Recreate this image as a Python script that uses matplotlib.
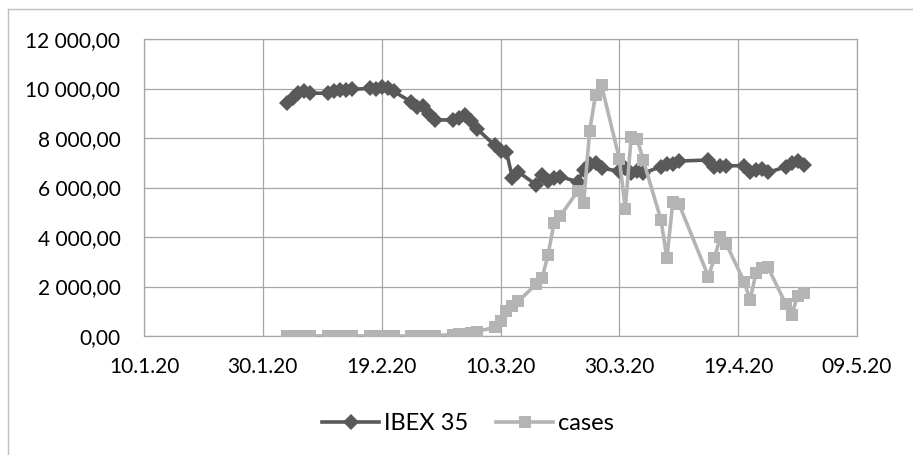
import matplotlib
matplotlib.use("Agg")
import matplotlib.pyplot as plt
from matplotlib.ticker import FuncFormatter, MultipleLocator
from matplotlib.lines import Line2D
import pandas as pd

# DATA
dates = [
    "2020-02-03", "2020-02-04", "2020-02-05", "2020-02-06", "2020-02-07",
    "2020-02-10", "2020-02-11", "2020-02-12", "2020-02-13", "2020-02-14",
    "2020-02-17", "2020-02-18", "2020-02-19", "2020-02-20", "2020-02-21",
    "2020-02-24", "2020-02-25", "2020-02-26", "2020-02-27", "2020-02-28",
    "2020-03-02", "2020-03-03", "2020-03-04", "2020-03-05", "2020-03-06",
    "2020-03-09", "2020-03-10", "2020-03-11", "2020-03-12", "2020-03-13",
    "2020-03-16", "2020-03-17", "2020-03-18", "2020-03-19", "2020-03-20",
    "2020-03-23", "2020-03-24", "2020-03-25", "2020-03-26", "2020-03-27",
    "2020-03-30", "2020-03-31",
    "2020-04-01", "2020-04-02", "2020-04-03",
    "2020-04-06", "2020-04-07", "2020-04-08", "2020-04-09",
    "2020-04-14", "2020-04-15", "2020-04-16", "2020-04-17",
    "2020-04-20", "2020-04-21", "2020-04-22", "2020-04-23", "2020-04-24",
    "2020-04-27", "2020-04-28", "2020-04-29", "2020-04-30",
]

ibex = [
    9400, 9620, 9800, 9890, 9810, 9810, 9880, 9950, 9920, 9960,
    10010, 9970, 10080, 10010, 9880, 9460, 9250, 9310, 8970, 8720,
    8740, 8810, 8910, 8680, 8380, 7710, 7460, 7440, 6390, 6630,
    6110, 6500, 6280, 6400, 6440, 6230, 6720, 6940, 7000, 6780,
    6660, 6790,
    6580, 6650, 6580, 6840, 6950, 6950, 7070, 7110, 6840, 6850,
    6880, 6880, 6630, 6710, 6740, 6610, 6830, 6980, 7070, 6920,
]

cases = [
    0, 0, 0, 0, 0, 0, 0, 0, 0, 0,
    0, 0, 0, 0, 0, 0, 3, 5, 10, 20,
    50, 70, 100, 130, 180, 350, 620, 1000, 1200, 1400,
    2100, 2330, 3280, 4560, 4830, 5850, 5380, 8280, 9750, 10130,
    7160, 5150,
    8050, 7950, 7130, 4700, 3150, 5400, 5350, 2400, 3150, 4000,
    3720, 2200, 1460, 2540, 2740, 2780, 1300, 850, 1620, 1730,
]

tick_dates = ["2020-01-10", "2020-01-30", "2020-02-19", "2020-03-10",
              "2020-03-30", "2020-04-19", "2020-05-09"]
tick_labels = ["10.1.20", "30.1.20", "19.2.20", "10.3.20",
               "30.3.20", "19.4.20", "09.5.20"]

x = pd.to_datetime(dates)
xt = pd.to_datetime(tick_dates)

plt.rcParams['font.family'] = ['Lato', 'DejaVu Sans']

fig = plt.figure(figsize=(9.13, 4.55), dpi=100)
ax = fig.add_axes([144/913, 1-336/455, (857-144)/913, (336-39)/455])

grey_grid = "#a6a6a6"
ax.plot(x, ibex, color="#595959", lw=2.6, marker="D", ms=8,
        markeredgewidth=0, label="IBEX 35", zorder=3)
ax.plot(x, cases, color="#b4b4b4", lw=2.6, marker="s", ms=8.5,
        markeredgewidth=0, label="cases", zorder=4)

ax.set_xlim(xt[0], xt[-1])
ax.set_xticks(xt)
ax.set_xticklabels(tick_labels)
ax.set_ylim(0, 12000)
ax.yaxis.set_major_locator(MultipleLocator(2000))
ax.yaxis.set_major_formatter(FuncFormatter(
    lambda v, p: f"{v:,.2f}".replace(",", " ").replace(".", ",")))

ax.grid(True, color=grey_grid, lw=0.9)
ax.set_axisbelow(True)
for s in ax.spines.values():
    s.set_color(grey_grid)
    s.set_linewidth(0.9)
ax.tick_params(length=0, labelsize=15, colors="black")
ax.tick_params(axis="x", pad=15)
ax.tick_params(axis="y", pad=17)

leg = fig.legend(loc="center", bbox_to_anchor=(468/913, 1-424/455), ncol=2,
                 frameon=False, fontsize=17, handlelength=2.4,
                 handletextpad=0.2, columnspacing=1.2, numpoints=1)

# outer chart frame
fig.add_artist(Line2D([7.5/913, 7.5/913], [0, 1-8.5/455],
                      transform=fig.transFigure, color="#c0c0c0", lw=1))
fig.add_artist(Line2D([7.5/913, 1], [1-8.5/455, 1-8.5/455],
                      transform=fig.transFigure, color="#c0c0c0", lw=1))

fig.savefig("out.png", dpi=100)
